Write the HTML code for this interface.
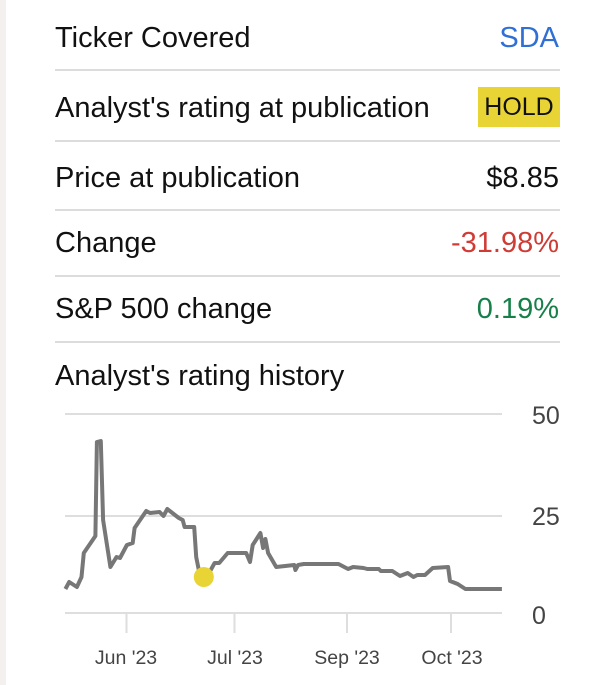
<!DOCTYPE html>
<html><head><style>
body{margin:0;width:601px;height:685px;background:#fff;position:relative;overflow:hidden;font-family:"Liberation Sans",sans-serif}
.strip{position:absolute;left:0;top:0;width:6px;height:685px;background:#f4f0f0}
.t{position:absolute;font-size:29px;color:#111;line-height:34px;white-space:nowrap}
.r{position:absolute;right:42px;font-size:29px;line-height:34px;text-align:right;white-space:nowrap}
.sep{position:absolute;left:55px;width:505px;height:2px;background:#dcdcdc}
</style></head><body>
<div class="strip"></div>
<div class="t" style="left:55px;top:21px">Ticker Covered</div>
<div class="r" style="top:21px;color:#2f6fd6">SDA</div>
<div class="sep" style="top:69px"></div>
<div class="t" style="left:55px;top:91px">Analyst's rating at publication</div>
<div style="position:absolute;left:478px;top:87px;width:82px;height:40px;background:#e9d436;color:#111;font-size:25px;line-height:40px;text-align:center">HOLD</div>
<div class="sep" style="top:140px"></div>
<div class="t" style="left:55px;top:161px">Price at publication</div>
<div class="r" style="top:161px;color:#111">$8.85</div>
<div class="sep" style="top:209px"></div>
<div class="t" style="left:55px;top:226px">Change</div>
<div class="r" style="top:226px;color:#cf3b35">-31.98%</div>
<div class="sep" style="top:275px"></div>
<div class="t" style="left:55px;top:292px">S&amp;P 500 change</div>
<div class="r" style="top:292px;color:#17804a">0.19%</div>
<div class="sep" style="top:341px"></div>
<div class="t" style="left:55px;top:359px">Analyst's rating history</div>
<svg style="position:absolute;left:0;top:0" width="601" height="685">
<g stroke="#dedede" stroke-width="2">
<line x1="65" y1="414" x2="502" y2="414"/>
<line x1="65" y1="516" x2="502" y2="516"/>
<line x1="65" y1="613" x2="502" y2="613"/>
<line x1="126.5" y1="613" x2="126.5" y2="633"/>
<line x1="234.5" y1="613" x2="234.5" y2="633"/>
<line x1="347" y1="613" x2="347" y2="633"/>
<line x1="451" y1="613" x2="451" y2="633"/>
</g>
<polyline fill="none" stroke="#777" stroke-width="4" stroke-linejoin="round" points="65.4,589 69.2,582 76.9,587 81.5,577 83.8,553 95.4,536 96.9,442 100.8,441 103.1,520 110.4,567 116.5,557 120,558 126.9,545 132.7,543 134.6,528 146.2,511 150,513 159.6,512 163.5,516 167.3,509 178.8,518 182.7,520 184.6,527 194.2,527 196.2,557 199.2,572 203.8,577 209.6,572 214.6,563 219.2,563 227.7,553 246.2,553 250,562 252.7,545 260.4,533 263.1,548 265.4,539 268.1,553 276.2,567 294.2,565 295.4,570 298.1,565 303.8,564 338.5,564 348.1,569 353.1,567 363.5,568 367.3,569 378.8,569 380.8,571 392.3,571 400,576 407.7,573 413.5,577 417.3,575 425,575 432.7,568 448.1,567 450,581 457.7,584 465.4,589 501.9,589"/>
<circle cx="203.8" cy="577" r="10" fill="#e9d436"/>
<g font-size="25" fill="#444">
<text x="532" y="424">50</text>
<text x="532" y="525">25</text>
<text x="532" y="624">0</text>
</g>
<g font-size="19.5" fill="#444" text-anchor="middle">
<text x="126" y="664">Jun '23</text>
<text x="235" y="664">Jul '23</text>
<text x="347" y="664">Sep '23</text>
<text x="452" y="664">Oct '23</text>
</g>
</svg>
</body></html>
